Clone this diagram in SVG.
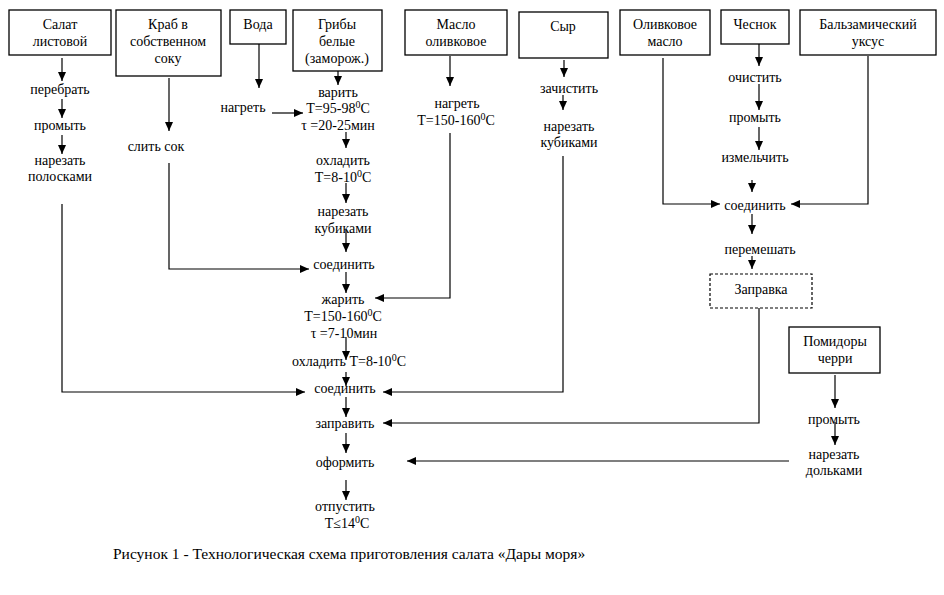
<svg xmlns="http://www.w3.org/2000/svg" width="944" height="595" viewBox="0 0 944 595">
<style>
text{font-family:"Liberation Serif","Times New Roman",serif;font-size:14px;fill:#000;text-anchor:middle}
.box{fill:#fff;stroke:#000;stroke-width:1.3}
.dash{fill:#fff;stroke:#000;stroke-width:1.2;stroke-dasharray:3,2}
.c path{fill:none;stroke:#000;stroke-width:1.2;marker-end:url(#ah)}
.sup{font-size:10px}
.cap{font-size:15.5px;text-anchor:start}
</style>
<defs>
<marker id="ah" markerUnits="userSpaceOnUse" markerWidth="9" markerHeight="8" refX="9" refY="4" orient="auto">
<path d="M0,0 L9,4 L0,8 z" fill="#000"/>
</marker>
</defs>
<rect width="944" height="595" fill="#fff"/>

<g id="salat"><rect class="box" x="9" y="10" width="102" height="45"/><text x="60" y="29">Салат</text><text x="60" y="46">листовой</text></g>
<g id="krab"><rect class="box" x="116" y="10" width="105" height="66"/><text x="168" y="29">Краб в</text><text x="168" y="46">собственном</text><text x="168" y="63">соку</text></g>
<g id="voda"><rect class="box" x="230" y="10" width="56" height="34"/><text x="258" y="29">Вода</text></g>
<g id="griby"><rect class="box" x="293" y="10" width="89" height="61"/><text x="337" y="29">Грибы</text><text x="337" y="46">белые</text><text x="337" y="63">(заморож.)</text></g>
<g id="maslo"><rect class="box" x="405" y="10" width="102" height="45"/><text x="456" y="29">Масло</text><text x="456" y="46">оливковое</text></g>
<g id="syr"><rect class="box" x="519" y="12" width="89" height="46"/><text x="563" y="31">Сыр</text></g>
<g id="olivk"><rect class="box" x="620" y="10" width="90" height="45"/><text x="665" y="29">Оливковое</text><text x="665" y="46">масло</text></g>
<g id="chesnok"><rect class="box" x="721" y="10" width="68" height="34"/><text x="755" y="29">Чеснок</text></g>
<g id="balz"><rect class="box" x="800" y="10" width="136" height="45"/><text x="868" y="29">Бальзамический</text><text x="868" y="46">уксус</text></g>
<g id="zapravka"><rect class="dash" x="710" y="274" width="102" height="34"/><text x="761" y="294">Заправка</text></g>
<g id="pomidory"><rect class="box" x="789" y="327" width="91" height="46"/><text x="835" y="346">Помидоры</text><text x="835" y="363">черри</text></g>

<g id="s-perebrat"><text x="60" y="94">перебрать</text></g>
<g id="s-promyt"><text x="60" y="130">промыть</text></g>
<g id="s-narezat1"><text x="60" y="165">нарезать</text><text x="60" y="181">полосками</text></g>
<g id="k-slit"><text x="156" y="151">слить сок</text></g>
<g id="v-nagret"><text x="243" y="112">нагреть</text></g>
<g id="g-varit"><text x="338" y="97">варить</text><text x="338" y="113">Т=95-98<tspan class="sup" dy="-5">0</tspan><tspan dy="5">С</tspan></text><text x="338" y="130">τ =20-25мин</text></g>
<g id="g-ohladit"><text x="343" y="165">охладить</text><text x="343" y="182">Т=8-10<tspan class="sup" dy="-5">0</tspan><tspan dy="5">С</tspan></text></g>
<g id="g-narezat"><text x="343" y="216">нарезать</text><text x="343" y="233">кубиками</text></g>
<g id="soed1"><text x="344" y="269">соединить</text></g>
<g id="zharit"><text x="343" y="304">жарить</text><text x="343" y="321">Т=150-160<tspan class="sup" dy="-5">0</tspan><tspan dy="5">С</tspan></text><text x="344" y="338">τ =7-10мин</text></g>
<g id="ohladit2"><text x="349" y="366">охладить Т=8-10<tspan class="sup" dy="-5">0</tspan><tspan dy="5">С</tspan></text></g>
<g id="soed2"><text x="345" y="393">соединить</text></g>
<g id="zapravit"><text x="345" y="428">заправить</text></g>
<g id="oformit"><text x="345" y="467">оформить</text></g>
<g id="otpustit"><text x="345" y="511">отпустить</text><text x="347" y="528">Т≤14<tspan class="sup" dy="-5">0</tspan><tspan dy="5">С</tspan></text></g>
<g id="m-nagret"><text x="457" y="108">нагреть</text><text x="456" y="125">Т=150-160<tspan class="sup" dy="-5">0</tspan><tspan dy="5">С</tspan></text></g>
<g id="syr-zachistit"><text x="569" y="93">зачистить</text></g>
<g id="syr-narezat"><text x="569" y="131">нарезать</text><text x="569" y="147">кубиками</text></g>
<g id="ch-ochistit"><text x="755" y="82">очистить</text></g>
<g id="ch-promyt"><text x="755" y="122">промыть</text></g>
<g id="ch-izmelchit"><text x="755" y="162">измельчить</text></g>
<g id="soed3"><text x="755" y="210">соединить</text></g>
<g id="peremeshat"><text x="760" y="254">перемешать</text></g>
<g id="p-promyt"><text x="834" y="424">промыть</text></g>
<g id="p-narezat"><text x="834" y="459">нарезать</text><text x="834" y="475">дольками</text></g>

<g class="c" id="connectors">
<path d="M62,58 V81"/>
<path d="M62,99 V118"/>
<path d="M62,135 V154"/>
<path d="M62,204 V392 H305"/>
<path d="M169,78 V131"/>
<path d="M169,163 V269 H309"/>
<path d="M259,44 V88"/>
<path d="M272,113 H303"/>
<path d="M338,71 V85"/>
<path d="M346,132 V148"/>
<path d="M346,183 V203"/>
<path d="M346,230 V252"/>
<path d="M346,272 V293"/>
<path d="M450,56 V86"/>
<path d="M450,133 V298 H375"/>
<path d="M346,337 V360"/>
<path d="M346,372 V386"/>
<path d="M564,60 V77"/>
<path d="M563,95 V110"/>
<path d="M563,156 V392 H383"/>
<path d="M346,397 V417"/>
<path d="M759,308 V423 H383"/>
<path d="M346,433 V453"/>
<path d="M789,461 H407"/>
<path d="M346,480 V500"/>
<path d="M663,58 V204 H720"/>
<path d="M868,56 V204 H791"/>
<path d="M759,44 V66"/>
<path d="M759,84 V110"/>
<path d="M759,127 V150"/>
<path d="M752,180 V192"/>
<path d="M752,214 V234"/>
<path d="M752,256 V269"/>
<path d="M835,375 V408"/>
<path d="M835,422 V445"/>
</g>

<text class="cap" x="113" y="559">Рисунок 1 - Технологическая схема приготовления салата «Дары моря»</text>
</svg>
